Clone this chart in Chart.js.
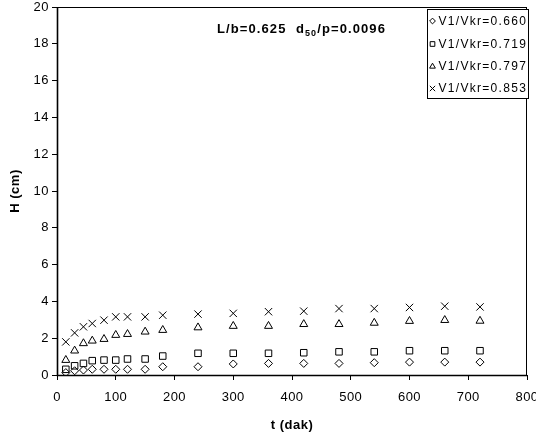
<!DOCTYPE html>
<html><head><meta charset="utf-8">
<script src="https://cdn.jsdelivr.net/npm/chart.js@4/dist/chart.umd.min.js"></script>
<style>html,body{margin:0;padding:0;background:#fff}#wrap{width:536px;height:441px;position:relative}</style>
</head><body><div id="wrap"><canvas id="c" width="536" height="441"></canvas></div>
<script>
const times = [15,30,45,60,80,100,120,150,180,240,300,360,420,480,540,600,660,720];
const seriesNames = ['V1/Vkr=0.660','V1/Vkr=0.719','V1/Vkr=0.797','V1/Vkr=0.853'];
const h660 = [0.13,0.23,0.27,0.31,0.31,0.31,0.31,0.31,0.45,0.45,0.60,0.63,0.63,0.63,0.67,0.70,0.70,0.70];
const h719 = [0.31,0.50,0.63,0.78,0.81,0.81,0.87,0.87,1.03,1.18,1.18,1.18,1.21,1.26,1.26,1.32,1.32,1.32];
const h797 = [0.81,1.32,1.72,1.86,1.95,2.17,2.22,2.35,2.44,2.58,2.66,2.66,2.76,2.76,2.83,2.93,2.98,2.94];
const h853 = [1.80,2.29,2.62,2.80,2.98,3.16,3.16,3.16,3.25,3.31,3.35,3.44,3.47,3.61,3.61,3.67,3.74,3.70];
const annotation = ['L/b=0.625  d', '50', '/p=0.0096'];
const xTitle = 't (dak)';
const yTitle = 'H (cm)';

const styles = [
  {pointStyle:'rectRot', radius:4},
  {pointStyle:'rect', radius:4.6},
  {pointStyle:'triangle', radius:4.6},
  {pointStyle:'crossRot', radius:5.2}
];
const allSeries = [h660,h719,h797,h853];
const FONT = 'Liberation Sans, Arial, sans-serif';

const datasets = allSeries.map((s,i)=>({
  label: seriesNames[i],
  data: times.map((t,j)=>({x:t,y:s[j]})),
  showLine:false,
  pointStyle: styles[i].pointStyle,
  pointRadius: styles[i].radius,
  pointHoverRadius: styles[i].radius,
  pointBorderColor:'#000',
  pointBackgroundColor:'rgba(255,255,255,0)',
  pointBorderWidth:1,
  borderColor:'#000',
  backgroundColor:'rgba(255,255,255,0)'
}));

const deco = {
  id:'deco',
  beforeDraw(chart){
    const ctx = chart.ctx;
    ctx.save();
    ctx.fillStyle='#fff';
    ctx.fillRect(0,0,chart.width,chart.height);
    ctx.restore();
    ctx.letterSpacing = '0.5px';
  },
  afterDraw(chart){
    const ctx = chart.ctx;
    const a = chart.chartArea;
    ctx.save();
    ctx.strokeStyle='#000';
    ctx.lineWidth=1;
    ctx.strokeRect(a.left+0.5, a.top+0.5, a.right-a.left-1, a.bottom-a.top);
    ctx.lineWidth=1.6;
    ctx.beginPath();
    ctx.moveTo(a.left+0.5, a.top); ctx.lineTo(a.left+0.5, a.bottom+0.5);
    ctx.lineTo(a.right, a.bottom+0.5);
    ctx.stroke();
    // annotation
    ctx.fillStyle='#000';
    ctx.letterSpacing='1.1px';
    ctx.textBaseline='alphabetic';
    ctx.textAlign='left';
    let x = 217, y = 33;
    ctx.font = 'bold 13px ' + FONT;
    ctx.fillText(annotation[0], x, y);
    x += ctx.measureText(annotation[0]).width;
    ctx.font = 'bold 9px ' + FONT;
    ctx.fillText(annotation[1], x, y+3);
    x += ctx.measureText(annotation[1]).width;
    ctx.font = 'bold 13px ' + FONT;
    ctx.fillText(annotation[2], x, y);
    // legend
    const lx = 427, ly = 9, lw = 101, lh = 89;
    ctx.fillStyle='#fff';
    ctx.fillRect(lx, ly, lw, lh);
    ctx.strokeStyle='#000';
    ctx.lineWidth=1;
    ctx.strokeRect(lx+0.5, ly+0.5, lw, lh);
    const rows = [21, 44, 66.5, 88.5];
    ctx.font = '12px ' + FONT;
    ctx.letterSpacing='1.3px';
    ctx.textBaseline='middle';
    chart.data.datasets.forEach((ds,i)=>{
      const cy = rows[i];
      const st = styles[i];
      ctx.save();
      ctx.strokeStyle='#000'; ctx.lineWidth=1;
      drawMarker(ctx, st.pointStyle, 432.5, cy, st.radius*0.72);
      ctx.restore();
      ctx.fillStyle='#000';
      ctx.fillText(ds.label, 438.5, cy+0.5);
    });
    ctx.restore();
  }
};

function drawMarker(ctx, style, x, y, r){
  ctx.beginPath();
  if(style==='rectRot'){
    ctx.moveTo(x, y-r); ctx.lineTo(x+r, y); ctx.lineTo(x, y+r); ctx.lineTo(x-r, y); ctx.closePath();
  } else if(style==='rect'){
    const s = r*Math.SQRT1_2;
    ctx.rect(x-s, y-s, 2*s, 2*s);
  } else if(style==='triangle'){
    ctx.moveTo(x, y - r); ctx.lineTo(x + r*0.866, y + r*0.5); ctx.lineTo(x - r*0.866, y + r*0.5); ctx.closePath();
  } else if(style==='crossRot'){
    const s = r*Math.SQRT1_2;
    ctx.moveTo(x-s,y-s); ctx.lineTo(x+s,y+s); ctx.moveTo(x+s,y-s); ctx.lineTo(x-s,y+s);
  }
  ctx.stroke();
}

new Chart(document.getElementById('c'), {
  type:'scatter',
  data:{datasets},
  plugins:[deco],
  options:{
    responsive:false,
    animation:false,
    events:[],
    layout:{padding:{top:7,right:9,left:0,bottom:0}},
    plugins:{legend:{display:false},tooltip:{enabled:false}},
    scales:{
      x:{
        type:'linear', min:0, max:800,
        ticks:{stepSize:100, color:'#000', font:{family:FONT,size:13}, padding:10, maxRotation:0, autoSkip:false},
        grid:{drawOnChartArea:false, drawTicks:true, tickLength:5, color:'#000', tickColor:'#000'},
        border:{display:true,color:'#000',width:1},
        title:{display:true,text:xTitle,color:'#000',font:{family:FONT,size:13,weight:'bold'},padding:{top:4,bottom:8}},
        afterFit(s){ s.height = 66; s.paddingLeft=0; s.paddingRight=0; }
      },
      y:{
        type:'linear', min:0, max:20,
        ticks:{stepSize:2, color:'#000', font:{family:FONT,size:13}, padding:3},
        grid:{drawOnChartArea:false, drawTicks:true, tickLength:5, color:'#000', tickColor:'#000'},
        border:{display:true,color:'#000',width:1},
        title:{display:true,text:yTitle,color:'#000',font:{family:FONT,size:13,weight:'bold'},padding:{top:8,bottom:4}},
        afterFit(s){ s.width = 57; s.paddingTop=0; s.paddingBottom=0; }
      }
    }
  }
});
</script></body></html>
